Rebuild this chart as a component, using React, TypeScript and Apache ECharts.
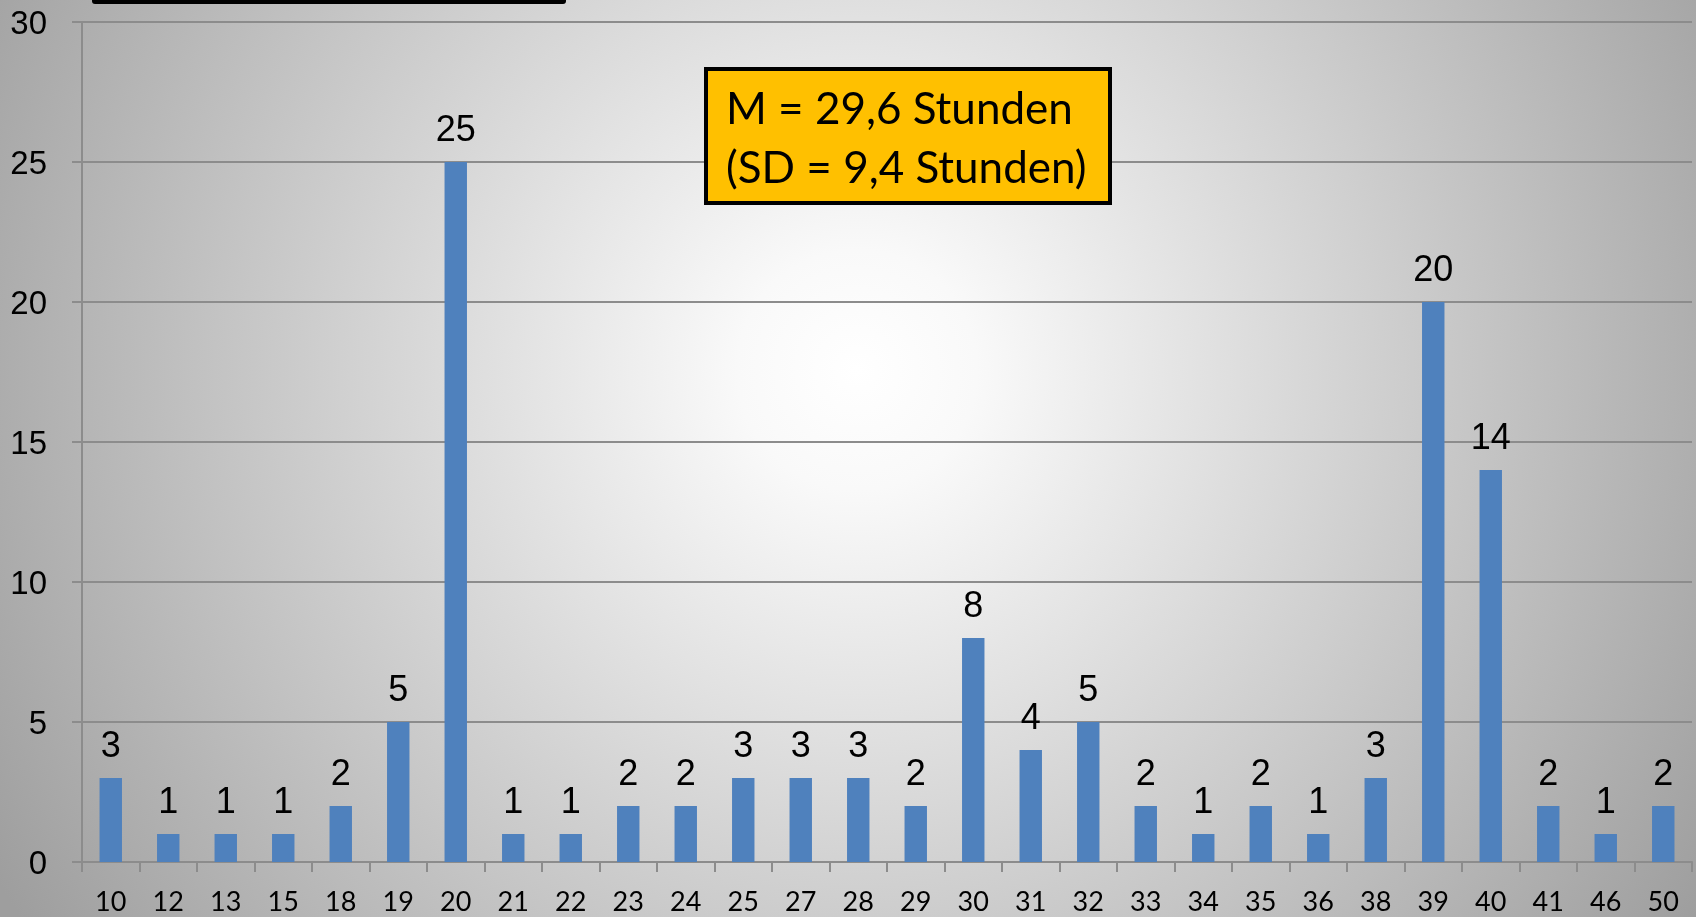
import React, { useEffect, useRef } from "react";
import * as echarts from "echarts";

const categories = ["10", "12", "13", "15", "18", "19", "20", "21", "22", "23", "24", "25", "27", "28", "29", "30", "31", "32", "33", "34", "35", "36", "38", "39", "40", "41", "46", "50"];
const counts = [3, 1, 1, 1, 2, 5, 25, 1, 1, 2, 2, 3, 3, 3, 2, 8, 4, 5, 2, 1, 2, 1, 3, 20, 14, 2, 1, 2];
const yTicks = [0, 5, 10, 15, 20, 25, 30];
const boxLines = ["M = 29,6 Stunden", "(SD = 9,4 Stunden)"];

export default function App() {
  const ref = useRef<HTMLDivElement>(null);
  useEffect(() => {
    if (!ref.current) return;
    const chart = echarts.init(ref.current, undefined, { renderer: "svg" });
    const gray = "#8c8c8c";
    chart.setOption({
      animation: false,
      graphic: [
        {
          type: "rect",
          z: -10,
          silent: true,
          shape: { x: 0, y: 0, width: 1696, height: 917 },
          style: {
            fill: new echarts.graphic.RadialGradient(
              857,
              370,
              1000,
              [
                { offset: 0, color: "#ffffff" },
                { offset: 0.12, color: "#f9f9f9" },
                { offset: 1, color: "#9e9e9e" },
              ],
              true
            ),
          },
        },
        {
          type: "rect",
          z: 10,
          shape: { x: 92, y: -8, width: 474, height: 12, r: 3 },
          style: { fill: "#000000" },
        },
        {
          type: "rect",
          z: 10,
          shape: { x: 706, y: 69, width: 404, height: 134 },
          style: { fill: "#FFC000", stroke: "#000000", lineWidth: 4 },
        },
        {
          type: "text",
          z: 11,
          x: 726,
          y: 107,
          style: {
            text: boxLines[0],
            font: "44px Lato",
            fill: "#000000",
            verticalAlign: "middle",
          },
        },
        {
          type: "text",
          z: 11,
          x: 726,
          y: 166,
          style: {
            text: boxLines[1],
            font: "44px Lato",
            fill: "#000000",
            verticalAlign: "middle",
          },
        },
      ],
      grid: { left: 82, right: 4, top: 22, bottom: 55, containLabel: false },
      xAxis: {
        type: "category",
        data: categories,
        axisLine: { show: true, lineStyle: { color: gray, width: 2 } },
        axisTick: { show: true, length: 10, lineStyle: { color: gray, width: 2 } },
        axisLabel: {
          color: "#000000",
          fontFamily: "Lato",
          fontSize: 27,
          lineHeight: 27,
          margin: 25,
          interval: 0,
        },
      },
      yAxis: {
        type: "value",
        min: 0,
        max: 30,
        interval: 5,
        axisLine: { show: true, lineStyle: { color: gray, width: 2 } },
        axisTick: { show: true, length: 10, lineStyle: { color: gray, width: 2 } },
        splitLine: { show: true, lineStyle: { color: gray, width: 2 } },
        axisLabel: {
          color: "#000000",
          fontFamily: "Liberation Sans",
          fontSize: 33,
          margin: 35,
          formatter: (v: number) => (yTicks.includes(v) ? String(v) : ""),
        },
      },
      series: [
        {
          type: "bar",
          data: counts,
          barWidth: "39%",
          itemStyle: { color: "#4F81BD" },
          label: {
            show: true,
            position: "top",
            distance: 16,
            color: "#000000",
            fontFamily: "Liberation Sans",
            fontSize: 36,
            lineHeight: 36,
          },
        },
      ],
    });
    return () => chart.dispose();
  }, []);
  return (
    <div
      ref={ref}
      style={{ position: "fixed", left: 0, top: 0, width: 1696, height: 917 }}
    />
  );
}
